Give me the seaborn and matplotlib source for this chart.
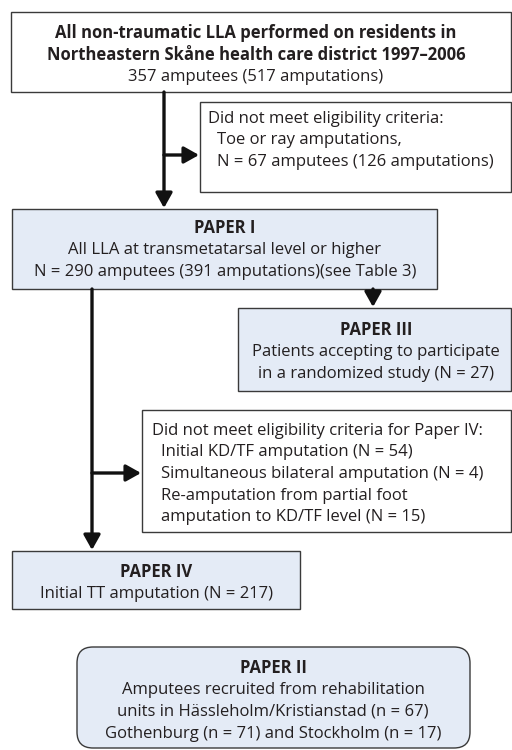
import matplotlib
matplotlib.use('Agg')
import matplotlib.pyplot as plt
from matplotlib.patches import FancyBboxPatch, Rectangle
import seaborn as sns

# ---- content of the flowchart ----
top_title = ["All non-traumatic LLA performed on residents in",
             "Northeastern Skåne health care district 1997–2006"]
top_body = ["357 amputees (517 amputations)"]

excl1_head = "Did not meet eligibility criteria:"
excl1_items = ["Toe or ray amputations,", "N = 67 amputees (126 amputations)"]

paper1_title = "PAPER I"
paper1_body = ["All LLA at transmetatarsal level or higher",
               "N = 290 amputees (391 amputations)(see Table 3)"]

paper3_title = "PAPER III"
paper3_body = ["Patients accepting to participate", "in a randomized study (N = 27)"]

excl2_head = "Did not meet eligibility criteria for Paper IV:"
excl2_items = ["Initial KD/TF amputation (N = 54)",
               "Simultaneous bilateral amputation (N = 4)",
               "Re-amputation from partial foot",
               "amputation to KD/TF level (N = 15)"]

paper4_title = "PAPER IV"
paper4_body = ["Initial TT amputation (N = 217)"]

paper2_title = "PAPER II"
paper2_body = ["Amputees recruited from rehabilitation",
               "units in Hässleholm/Kristianstad (n = 67)",
               "Gothenburg (n = 71) and Stockholm (n = 17)"]

sns.set_theme(style="white")
plt.rcParams['font.family'] = ['Open Sans', 'DejaVu Sans']

TXT = '#231f20'
EDGE = '#3a3a3a'
FILL = '#e4ebf6'
FS = 12
LH = 21.5

fig = plt.figure(figsize=(5.12, 7.5), dpi=100)
ax = fig.add_axes([0, 0, 1, 1])
ax.set_xlim(0, 512)
ax.set_ylim(750, 0)
ax.axis('off')


def box(x0, y0, x1, y1, fill='white', rounded=False):
    if rounded:
        p = FancyBboxPatch((x0, y0), x1 - x0, y1 - y0,
                           boxstyle="round,pad=0,rounding_size=16",
                           fc=fill, ec=EDGE, lw=1.0)
    else:
        p = Rectangle((x0, y0), x1 - x0, y1 - y0, fc=fill, ec=EDGE, lw=1.0)
    ax.add_patch(p)


def centered(cx, y, title_lines, body_lines, title_bold=True):
    for i, t in enumerate(title_lines):
        ax.text(cx, y + i * LH, t, ha='center', va='baseline', fontsize=FS,
                fontweight='bold' if title_bold else 'normal', color=TXT)
    n = len(title_lines)
    for j, t in enumerate(body_lines):
        ax.text(cx, y + (n + j) * LH, t, ha='center', va='baseline',
                fontsize=FS, color=TXT)


def listed(x, y, head, items, indent=9):
    ax.text(x, y, head, ha='left', va='baseline', fontsize=FS, color=TXT)
    for j, t in enumerate(items):
        ax.text(x + indent, y + (j + 1) * LH, t, ha='left', va='baseline',
                fontsize=FS, color=TXT)


def arrow(x0, y0, x1, y1):
    ax.annotate('', xy=(x1, y1), xytext=(x0, y0),
                arrowprops=dict(arrowstyle='-|>,head_length=0.5,head_width=0.28',
                                lw=2.4, color='#111111', shrinkA=0, shrinkB=0,
                                mutation_scale=18))


# boxes
box(11, 12, 511, 92)
box(200, 102, 511, 192)
box(12, 209, 437, 289, fill=FILL)
box(238, 308, 511, 391, fill=FILL)
box(142, 410, 511, 532)
box(12, 551, 300, 609, fill=FILL)
box(77, 647, 470, 748, fill=FILL, rounded=True)

# connectors
arrow(164, 92, 164, 208)
arrow(164, 155, 199, 155)
arrow(373, 289, 373, 307)
arrow(92, 289, 92, 550)
arrow(92, 473, 141, 473)

# texts
centered(256, 38, top_title, top_body)
listed(208, 123, excl1_head, excl1_items)
centered(225, 233, [paper1_title], paper1_body)
centered(376, 335, [paper3_title], paper3_body)
listed(152, 435, excl2_head, excl2_items)
centered(156, 577, [paper4_title], paper4_body)
centered(273, 673, [paper2_title], paper2_body)

fig.savefig('out.png', dpi=100, facecolor='white')
